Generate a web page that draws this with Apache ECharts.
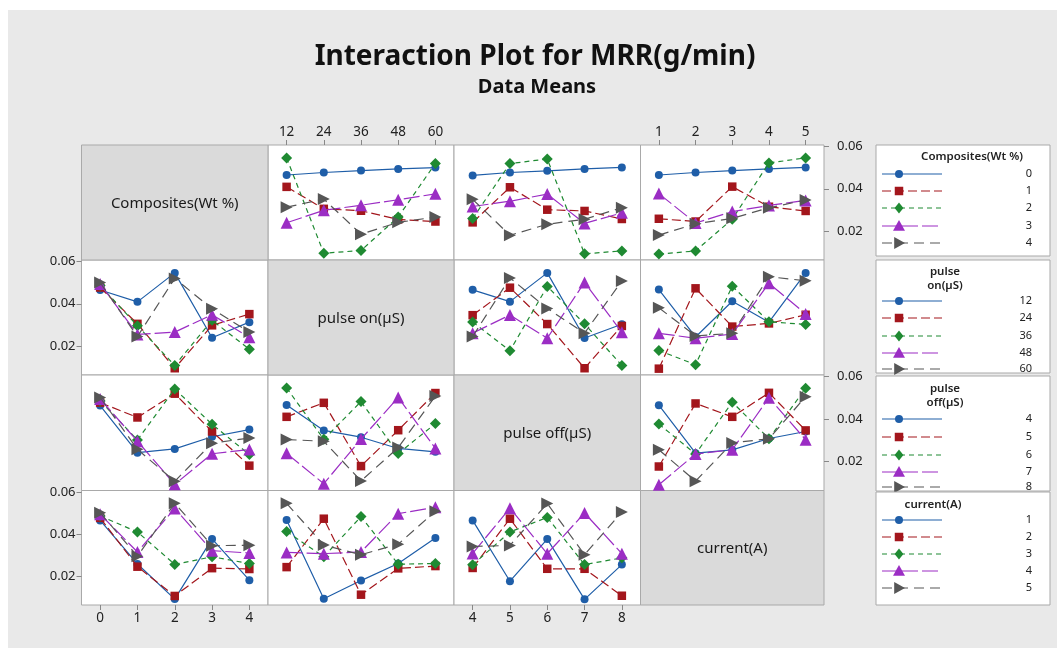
<!DOCTYPE html>
<html><head><meta charset="utf-8">
<script src="https://cdn.jsdelivr.net/npm/echarts@6/dist/echarts.min.js"></script>
<style>html,body{margin:0;padding:0;background:#fff}#c{width:1057px;height:648px}</style>
</head><body><div id="c"></div>
<script>
// ---- data ----
const factorNames = ['Composites(Wt %)', 'pulse on(µS)', 'pulse off(µS)', 'current(A)'];
const compLevels = ['0', '1', '2', '3', '4'];
const pulseOnLevels = ['12', '24', '36', '48', '60'];
const pulseOffLevels = ['4', '5', '6', '7', '8'];
const currentLevels = ['1', '2', '3', '4', '5'];

// rows: composites level, cols: pulse on level
const compByPulseOn = [
  [0.0465, 0.0477, 0.0486, 0.0494, 0.0500],
  [0.0409, 0.0305, 0.0296, 0.0255, 0.0245],
  [0.0546, 0.0095, 0.0108, 0.0266, 0.0520],
  [0.0239, 0.0298, 0.0322, 0.0348, 0.0376],
  [0.0313, 0.0351, 0.0185, 0.0241, 0.0266]
];
// rows: composites level, cols: pulse off level
const compByPulseOff = [
  [0.0463, 0.0477, 0.0485, 0.0494, 0.0501],
  [0.0241, 0.0407, 0.0301, 0.0295, 0.0257],
  [0.0259, 0.0519, 0.0541, 0.0092, 0.0106],
  [0.0316, 0.0341, 0.0375, 0.0236, 0.0286],
  [0.0350, 0.0180, 0.0232, 0.0256, 0.0310]
];
// rows: composites level, cols: current level
const compByCurrent = [
  [0.0465, 0.0477, 0.0486, 0.0494, 0.0501],
  [0.0258, 0.0245, 0.0410, 0.0315, 0.0295],
  [0.0091, 0.0106, 0.0256, 0.0522, 0.0546],
  [0.0377, 0.0238, 0.0292, 0.0321, 0.0345],
  [0.0181, 0.0234, 0.0260, 0.0310, 0.0347]
];
// rows: pulse on level, cols: pulse off level
const pulseOnByPulseOff = [
  [0.0466, 0.0410, 0.0546, 0.0238, 0.0303],
  [0.0346, 0.0476, 0.0304, 0.0095, 0.0295],
  [0.0314, 0.0178, 0.0482, 0.0305, 0.0108],
  [0.0261, 0.0347, 0.0237, 0.0501, 0.0265],
  [0.0245, 0.0522, 0.0378, 0.0261, 0.0508]
];
// rows: pulse on level, cols: current level
const pulseOnByCurrent = [
  [0.0467, 0.0243, 0.0412, 0.0313, 0.0546],
  [0.0093, 0.0473, 0.0292, 0.0307, 0.0348],
  [0.0179, 0.0112, 0.0483, 0.0315, 0.0302],
  [0.0260, 0.0237, 0.0257, 0.0497, 0.0352],
  [0.0381, 0.0248, 0.0260, 0.0528, 0.0509]
];
// rows: pulse off level, cols: current level
const pulseOffByCurrent = [
  [0.0465, 0.0239, 0.0254, 0.0308, 0.0341],
  [0.0176, 0.0473, 0.0410, 0.0523, 0.0346],
  [0.0376, 0.0235, 0.0479, 0.0307, 0.0545],
  [0.0090, 0.0235, 0.0255, 0.0500, 0.0302],
  [0.0255, 0.0107, 0.0287, 0.0307, 0.0505]
];
const yTicks = [0.02, 0.04, 0.06];

// ---- layout / style ----
const levels = [compLevels, pulseOnLevels, pulseOffLevels, currentLevels];
const M = {};
M['0_1'] = compByPulseOn; M['0_2'] = compByPulseOff; M['0_3'] = compByCurrent;
M['1_2'] = pulseOnByPulseOff; M['1_3'] = pulseOnByCurrent; M['2_3'] = pulseOffByCurrent;

const colX = [81.5, 268, 454, 640.5, 824];
const rowY = [145, 260, 375, 490.5, 605];
const yMin = 0.0063, yMax = 0.0607;
const FONT = '"Noto Sans", "Open Sans", sans-serif';

const colors = ['#1f5ea8', '#a3161c', '#1f8a32', '#9b2dc4', '#565656'];
const symbols = ['circle', 'rect', 'diamond', 'triangle', 'triangle'];
const symRot = [0, 0, 0, 0, -90];
const symSize = [8, 8.5, 11, 12, 12];
const lineTypes = ['solid', [9, 4], [5, 4], [16, 4], [10, 6]];

function cellData(i, j, a) {
  // series = level a of factor i, x = levels of factor j
  const out = [];
  for (let b = 0; b < 5; b++) {
    out.push(i < j ? M[i + '_' + j][a][b] : M[j + '_' + i][b][a]);
  }
  return out;
}

const grids = [], xAxes = [], yAxes = [], series = [], graphics = [];

// background
graphics.push({ type: 'rect', shape: { x: 8, y: 10, width: 1049, height: 638 }, style: { fill: '#e9e9e9' }, z: -10 });

// titles
graphics.push({ type: 'text', x: 535, y: 57, style: { text: 'Interaction Plot for MRR(g/min)', font: 'bold 28px ' + FONT, fill: '#111', align: 'center', verticalAlign: 'middle' } });
graphics.push({ type: 'text', x: 537, y: 87, style: { text: 'Data Means', font: 'bold 20px ' + FONT, fill: '#111', align: 'center', verticalAlign: 'middle' } });

let k = 0;
for (let i = 0; i < 4; i++) {
  for (let j = 0; j < 4; j++) {
    const x0 = colX[j], x1 = colX[j + 1], y0 = rowY[i], y1 = rowY[i + 1];
    if (i === j) {
      graphics.push({ type: 'rect', shape: { x: x0, y: y0, width: x1 - x0, height: y1 - y0 }, style: { fill: '#dadada', stroke: '#a9a9a9', lineWidth: 1 } });
      graphics.push({ type: 'text', x: (x0 + x1) / 2, y: (y0 + y1) / 2 + 1, style: { text: factorNames[i], font: '15px ' + FONT, fill: '#1a1a1a', align: 'center', verticalAlign: 'middle' } });
      continue;
    }
    grids.push({ left: x0, top: y0, width: x1 - x0, height: y1 - y0, show: true, backgroundColor: '#fff', borderColor: '#a9a9a9', borderWidth: 1 });
    const showX = (i === 0 && (j === 1 || j === 3)) || (i === 3 && (j === 0 || j === 2));
    xAxes.push({
      gridIndex: k, type: 'category', data: levels[j], boundaryGap: true,
      position: i === 0 ? 'top' : 'bottom',
      axisLine: { show: false },
      axisTick: { show: showX, alignWithLabel: true, length: 5, lineStyle: { color: '#888' } },
      axisLabel: { show: showX, fontSize: 13.5, color: '#222', fontFamily: FONT, margin: 6 },
      splitLine: { show: false }
    });
    const showYL = j === 0 && (i === 1 || i === 3);
    const showYR = j === 3 && (i === 0 || i === 2);
    const showY = showYL || showYR;
    yAxes.push({
      gridIndex: k, type: 'value', min: yMin, max: yMax,
      position: showYR ? 'right' : 'left',
      axisLine: { show: false },
      splitLine: { show: false },
      axisTick: { show: showY, length: 5, customValues: yTicks, lineStyle: { color: '#888' } },
      axisLabel: { show: showY, customValues: yTicks, fontSize: 13, color: '#222', fontFamily: FONT, margin: showYR ? 13 : 6, formatter: v => v.toFixed(2) }
    });
    for (let a = 0; a < 5; a++) {
      series.push({
        type: 'line', xAxisIndex: k, yAxisIndex: k, name: levels[i][a],
        data: cellData(i, j, a),
        symbol: symbols[a], symbolSize: symSize[a], symbolRotate: symRot[a],
        lineStyle: { color: colors[a], width: 1.2, type: lineTypes[a] },
        itemStyle: { color: colors[a] },
        silent: true, animation: false, z: 2 + a
      });
    }
    k++;
  }
}

// legends
const legendBoxes = [
  { top: 145, h: 111, title: ['Composites(Wt %)'], titleX: 972, titleY: [157], rows: [174, 191, 208, 226, 243] },
  { top: 260, h: 113, title: ['pulse', 'on(µS)'], titleX: 945, titleY: [272, 286], rows: [301, 318, 336, 353, 369] },
  { top: 376, h: 115, title: ['pulse', 'off(µS)'], titleX: 945, titleY: [389, 403], rows: [419, 437, 455, 472, 487] },
  { top: 492, h: 113, title: ['current(A)'], titleX: 933, titleY: [505], rows: [520, 537, 554, 571, 588] }
];
function symbolShape(a, cx, cy, col) {
  const s = symSize[a] / 2;
  if (a === 0) return { type: 'circle', shape: { cx, cy, r: s }, style: { fill: col } };
  if (a === 1) return { type: 'rect', shape: { x: cx - s, y: cy - s, width: 2 * s, height: 2 * s }, style: { fill: col } };
  if (a === 2) return { type: 'polygon', shape: { points: [[cx, cy - s], [cx + s * 0.8, cy], [cx, cy + s], [cx - s * 0.8, cy]] }, style: { fill: col } };
  if (a === 3) return { type: 'polygon', shape: { points: [[cx, cy - s], [cx + s, cy + s * 0.8], [cx - s, cy + s * 0.8]] }, style: { fill: col } };
  return { type: 'polygon', shape: { points: [[cx + s, cy], [cx - s * 0.8, cy - s], [cx - s * 0.8, cy + s]] }, style: { fill: col } };
}
legendBoxes.forEach((b, li) => {
  graphics.push({ type: 'rect', shape: { x: 876, y: b.top, width: 174, height: b.h }, style: { fill: '#fff', stroke: '#a9a9a9', lineWidth: 1 } });
  b.title.forEach((t, ti) => {
    graphics.push({ type: 'text', x: b.titleX, y: b.titleY[ti], style: { text: t, font: '600 11.5px ' + FONT, fill: '#222', align: 'center', verticalAlign: 'middle' } });
  });
  for (let a = 0; a < 5; a++) {
    const y = b.rows[a];
    graphics.push({ type: 'line', shape: { x1: 882, y1: y, x2: 942, y2: y }, style: { stroke: colors[a], lineWidth: 1.2, lineDash: Array.isArray(lineTypes[a]) ? lineTypes[a] : null } });
    graphics.push(symbolShape(a, 899, y, colors[a]));
    graphics.push({ type: 'text', x: 1032, y: y, style: { text: levels[li][a], font: '11px ' + FONT, fill: '#222', align: 'right', verticalAlign: 'middle' } });
  }
});

const chart = echarts.init(document.getElementById('c'), null, { renderer: 'canvas' });
chart.setOption({
  animation: false,
  backgroundColor: '#fff',
  grid: grids, xAxis: xAxes, yAxis: yAxes, series: series,
  graphic: { elements: graphics }
});
</script></body></html>
